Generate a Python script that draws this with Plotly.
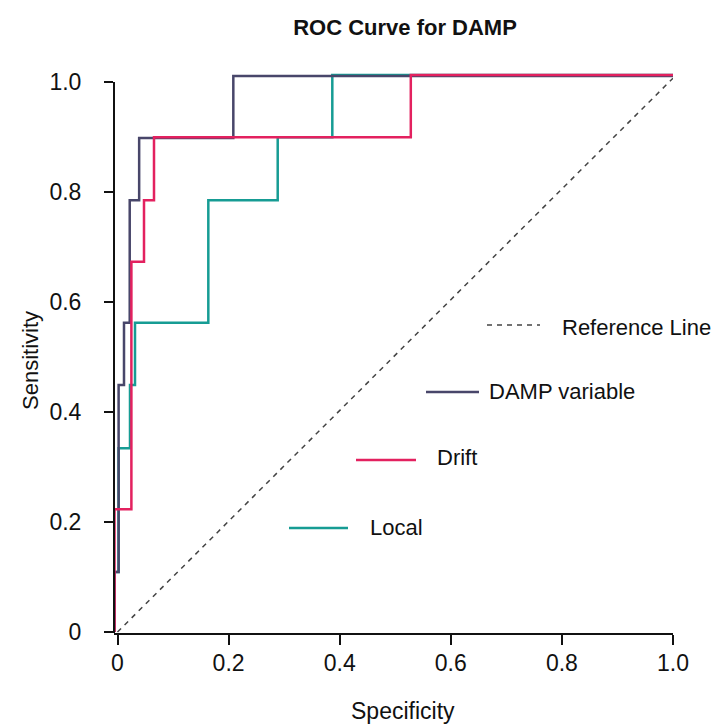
import plotly.graph_objects as go

# ---- data ----
damp_spec = [-0.0054, -0.0054, 0.002, 0.0117, 0.022, 0.039, 0.2085, 1.0]
damp_sens = [0.0, 0.109, 0.449, 0.5624, 0.785, 0.898, 1.011, 1.011]

drift_spec = [-0.0054, -0.0054, 0.025, 0.0477, 0.0657, 0.528, 1.0]
drift_sens = [0.0, 0.223, 0.6733, 0.785, 0.8995, 1.0127, 1.0127]

local_spec = [-0.0054, -0.0054, 0.002, 0.0225, 0.0315, 0.1635, 0.2884, 0.3867, 1.0]
local_sens = [0.0, 0.109, 0.334, 0.449, 0.5624, 0.785, 0.8995, 1.0127, 1.0127]

ref_spec = [0.0, 1.0]
ref_sens = [0.0, 1.007]

tick_vals = [0, 0.2, 0.4, 0.6, 0.8, 1.0]
tick_text = ["0", "0.2", "0.4", "0.6", "0.8", "1.0"]

series_names = ["Reference Line", "DAMP variable", "Drift", "Local"]

# ---- styles ----
C_DAMP = "#48466a"
C_DRIFT = "#e3215f"
C_LOCAL = "#169c94"
C_REF = "#444444"
FONT = "Liberation Sans, Arial, Helvetica, sans-serif"

OFF = 8  # page body margin
W, H = 714, 716
ML, MR, MT, MB = 106, 49, 65, 91
PW, PH = W - ML - MR, H - MT - MB


def px_x(p):
    return (p - OFF - ML) / PW


def px_y(p):
    return (H - MB - (p - OFF)) / PH


fig = go.Figure()
fig.add_trace(go.Scatter(x=ref_spec, y=ref_sens, mode="lines", name=series_names[0],
                         line=dict(color=C_REF, width=1.5, dash="5px,5px"), showlegend=False))
fig.add_trace(go.Scatter(x=local_spec, y=local_sens, mode="lines", name=series_names[3],
                         line=dict(color=C_LOCAL, width=2.5, shape="hv"), showlegend=False))
fig.add_trace(go.Scatter(x=damp_spec, y=damp_sens, mode="lines", name=series_names[1],
                         line=dict(color=C_DAMP, width=2.5, shape="hv"), showlegend=False))
fig.add_trace(go.Scatter(x=drift_spec, y=drift_sens, mode="lines", name=series_names[2],
                         line=dict(color=C_DRIFT, width=2.5, shape="hv"), showlegend=False))

# legend drawn as separate entries (staggered like the reference)
legend_items = [
    (series_names[0], C_REF, "dash", 1.5, 487, 540, 325, 560, 327),
    (series_names[1], C_DAMP, "solid", 2.5, 426, 479, 392, 487, 391),
    (series_names[2], C_DRIFT, "solid", 2.5, 356, 416, 460, 435, 457),
    (series_names[3], C_LOCAL, "solid", 2.5, 289, 348, 528, 368, 527),
]
shapes = []
annotations = []
for name, col, dash, lw, x0, x1, ly, tx, ty in legend_items:
    shapes.append(dict(type="line", xref="paper", yref="paper",
                       x0=px_x(x0), x1=px_x(x1), y0=px_y(ly), y1=px_y(ly),
                       line=dict(color=col, width=lw, dash="5px,5px" if dash == "dash" else "solid")))
    annotations.append(dict(text=name, xref="paper", yref="paper", x=px_x(tx), y=px_y(ty),
                            xanchor="left", yanchor="middle", showarrow=False,
                            font=dict(family=FONT, size=22, color="#111111")))

# y axis line (only up to 1.0)
shapes.append(dict(type="line", xref="paper", yref="y", x0=0, x1=0, y0=-0.0018, y1=1.0,
                   line=dict(color="#111111", width=2)))

# axis titles
annotations.append(dict(text="Specificity", xref="paper", yref="paper",
                        x=px_x(403), y=px_y(711), xanchor="center", yanchor="middle",
                        showarrow=False, font=dict(family=FONT, size=23, color="#111111")))
annotations.append(dict(text="Sensitivity", xref="paper", yref="paper",
                        x=px_x(30), y=px_y(360), xanchor="center", yanchor="middle",
                        textangle=-90, showarrow=False,
                        font=dict(family=FONT, size=22, color="#111111")))

fig.update_layout(
    width=W, height=H,
    margin=dict(l=ML, r=MR, t=MT, b=MB),
    paper_bgcolor="white", plot_bgcolor="white",
    title=dict(text="<b>ROC Curve for DAMP</b>", x=(405 - OFF) / W, xref="container",
               xanchor="center", y=1 - (27 - OFF) / H, yref="container", yanchor="middle",
               font=dict(family=FONT, size=22, color="#111111")),
    shapes=shapes,
    annotations=annotations,
    showlegend=False,
)
fig.update_xaxes(range=[-0.0063, 1.0], tickvals=tick_vals, ticktext=tick_text,
                 showgrid=False, zeroline=False, showline=True, linecolor="#111111", linewidth=2,
                 ticks="outside", ticklen=10, tickwidth=2, tickcolor="#111111",
                 ticklabelstandoff=-2,
                 tickfont=dict(family=FONT, size=23, color="#111111"))
fig.update_yaxes(range=[-0.0018, 1.0164], tickvals=tick_vals, ticktext=tick_text,
                 showgrid=False, zeroline=False, showline=False,
                 ticks="outside", ticklen=9, tickwidth=2, tickcolor="#111111",
                 ticklabelstandoff=18,
                 tickfont=dict(family=FONT, size=23, color="#111111"))

fig.write_html("out.html")
